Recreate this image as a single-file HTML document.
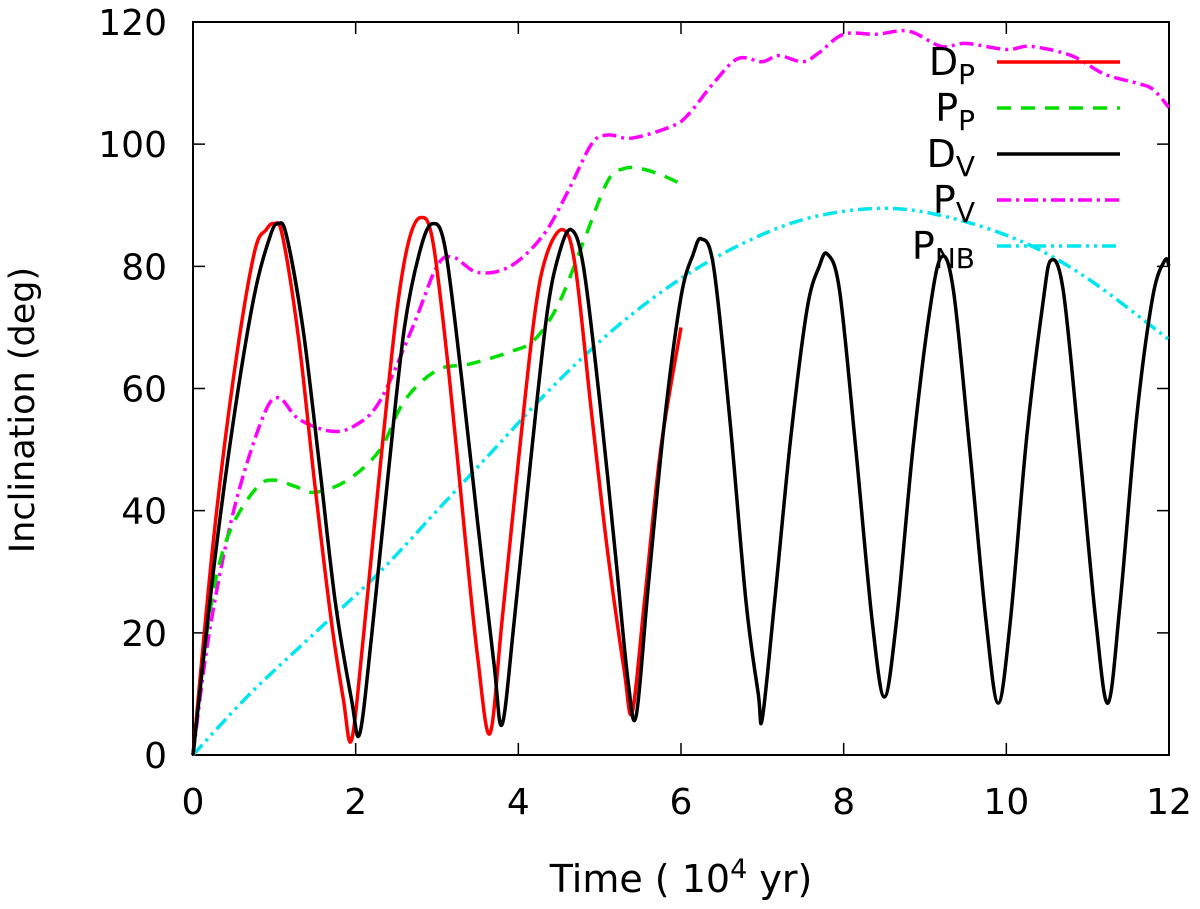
<!DOCTYPE html>
<html><head><meta charset="utf-8"><style>
body{margin:0;background:#fff}
svg text{font-family:"DejaVu Sans","Liberation Sans",sans-serif;fill:#000}
</style></head><body>
<svg id="c" width="1200" height="904">
<rect x="193" y="22" width="976" height="733" fill="none" stroke="#000" stroke-width="2"/>
<g id="axes"></g><g id="series"></g><g id="legend"></g>
<text x="681" y="892" font-size="38" text-anchor="middle">Time ( 10<tspan dy="-14" font-size="27">4</tspan><tspan dy="14"> yr)</tspan></text>
<text transform="translate(34,410) rotate(-90)" font-size="35" text-anchor="middle">Inclination (deg)</text>
</svg>
<script>
const xTicks=[0,2,4,6,8,10,12];
const yTicks=[0,20,40,60,80,100,120];
const dpT=[0,0.25,0.5,0.75,0.9,1.0,1.1,1.3,1.5,1.7,1.85,1.95,2.1,2.3,2.5,2.65,2.8,2.95,3.15,3.35,3.5,3.65,3.8,4.0,4.2,4.35,4.55,4.7,4.9,5.1,5.3,5.4,5.55,5.75,6.0];
const dpV=[0,35,62,82,86,87,85,68,44,22,9,2.5,20,47,72,84,88,84,62,35,16,3.5,22,48,72,82,86,80,56,33,14,7,25,50,70];
const ppT=[0,0.15,0.3,0.5,0.8,1.0,1.25,1.5,1.9,2.3,2.6,3.0,3.4,3.9,4.2,4.5,4.8,5.1,5.3,5.5,5.75,6.0];
const ppV=[0,18,30,38,44,45,44,43,45,50,58,63,64,66,68,74,84,94,96,96,95,93.5];
const dvT=[0,0.25,0.5,0.75,0.95,1.05,1.15,1.35,1.55,1.75,1.95,2.05,2.2,2.4,2.6,2.8,2.95,3.1,3.3,3.5,3.7,3.8,3.95,4.15,4.35,4.5,4.65,4.8,5.0,5.2,5.35,5.45,5.6,5.8,6.0,6.15,6.25,6.4,6.6,6.8,6.95,7.0,7.15,7.35,7.55,7.7,7.8,7.95,8.15,8.35,8.5,8.65,8.85,9.05,9.2,9.35,9.55,9.75,9.9,10.05,10.25,10.45,10.55,10.7,10.9,11.1,11.25,11.4,11.6,11.8,11.95,12.0];
const dvV=[0,30,55,75,85,87,85,70,48,25,9,3.5,20,46,70,83,87,83,62,38,15,5,22,48,72,82,86,80,58,32,12,6.5,28,55,75,82,84.5,80,55,25,10,6,25,52,73,80,82,76,50,22,9.5,22,50,72,81.5,76,50,22,8.5,22,52,74,81,76,50,22,8.5,25,55,75,81,80];
const pvT=[0,0.2,0.5,0.85,1.05,1.3,1.7,2.0,2.3,2.7,3.0,3.2,3.5,3.9,4.3,4.6,4.9,5.1,5.4,5.9,6.1,6.4,6.7,7.0,7.2,7.5,7.7,8.0,8.4,8.8,9.2,9.5,10.0,10.3,10.8,11.2,11.6,11.8,12.0];
const pvV=[0,20,40,55,58.5,55,53,54,58,70,80,81.5,79,80,85,92,100,101.5,101,103,105,110,114,113.5,114.5,113.5,115,118,118,118.5,116,116.5,115.5,116,114.5,111.5,110,109,106];
const nbT=[0,0.7,1.5,2.3,3.0,3.7,4.4,5.2,6.0,6.8,7.6,8.5,9.3,10.2,11.0,12.0];
const nbV=[0,10,20,30,40,50,60,70,78,84,88,89.5,88,84,78,68];
const NS='http://www.w3.org/2000/svg';
const X=t=>193+t*(976/12), Y=v=>755-v*(733/120);
function mk(tag,a,p){const e=document.createElementNS(NS,tag);for(const k in a)e.setAttribute(k,a[k]);p.appendChild(e);return e;}
const ax=document.getElementById('axes');
xTicks.forEach(t=>{
 let l=mk('path',{d:`M${X(t)},755v-12M${X(t)},22v12`,stroke:'#000','stroke-width':1.5},ax);
 
 
 let tx=mk('text',{x:X(t),y:814,'font-size':36,'text-anchor':'middle'},ax);tx.textContent=t;
 
 
});
yTicks.forEach(v=>{
 let l=mk('path',{d:`M193,${Y(v)}h12M1169,${Y(v)}h-12`,stroke:'#000','stroke-width':1.5},ax);
 
 
 let tx=mk('text',{x:167,y:Y(v)+13,'font-size':36,'text-anchor':'end'},ax);tx.textContent=v;
 
 
});
function path(T,V){const p=T.map((t,i)=>[X(t),Y(V[i])]);let d=`M${p[0][0]},${p[0][1]}`;
 for(let i=0;i<p.length-1;i++){const a=p[Math.max(i-1,0)],b=p[i],c=p[i+1],e=p[Math.min(i+2,p.length-1)];
 d+=`C${b[0]+(c[0]-a[0])/6},${b[1]+(c[1]-a[1])/6} ${c[0]-(e[0]-b[0])/6},${c[1]-(e[1]-b[1])/6} ${c[0]},${c[1]}`;}return d;}
const sg=document.getElementById('series'),lg=document.getElementById('legend');
const S=[
 {n:'D',s:'P',T:dpT,V:dpV,c:'#ff0000',da:'',nm:'series-dp'},
 {n:'P',s:'P',T:ppT,V:ppV,c:'#00e000',da:'14 10',nm:'series-pp'},
 {n:'D',s:'V',T:dvT,V:dvV,c:'#000',da:'',nm:'series-dv'},
 {n:'P',s:'V',T:pvT,V:pvV,c:'#ff00ff',da:'14 5 3 5',nm:'series-pv'},
 {n:'P',s:'NB',T:nbT,V:nbV,c:'#00e5ee',da:'14 5 3 5 3 5',nm:'series-pnb'}];
const order=[4,3,1,0,2];
order.forEach(i=>{const s=S[i];
 let p=mk('path',{d:path(s.T,s.V),fill:'none',stroke:s.c,'stroke-width':3.5,'stroke-dasharray':s.da},sg);
 
 });
S.forEach((s,i)=>{const y=62+i*46;
 let t=mk('text',{x:975,y:y+13,'font-size':38,'text-anchor':'end'},lg);
 t.innerHTML=`${s.n}<tspan dy="9" font-size="28">${s.s}</tspan>`;
 
 
 let l=mk('path',{d:`M997,${y}H1120`,stroke:s.c,'stroke-width':3.5,'stroke-dasharray':s.da},lg);
 
 });
</script>
</body></html>
